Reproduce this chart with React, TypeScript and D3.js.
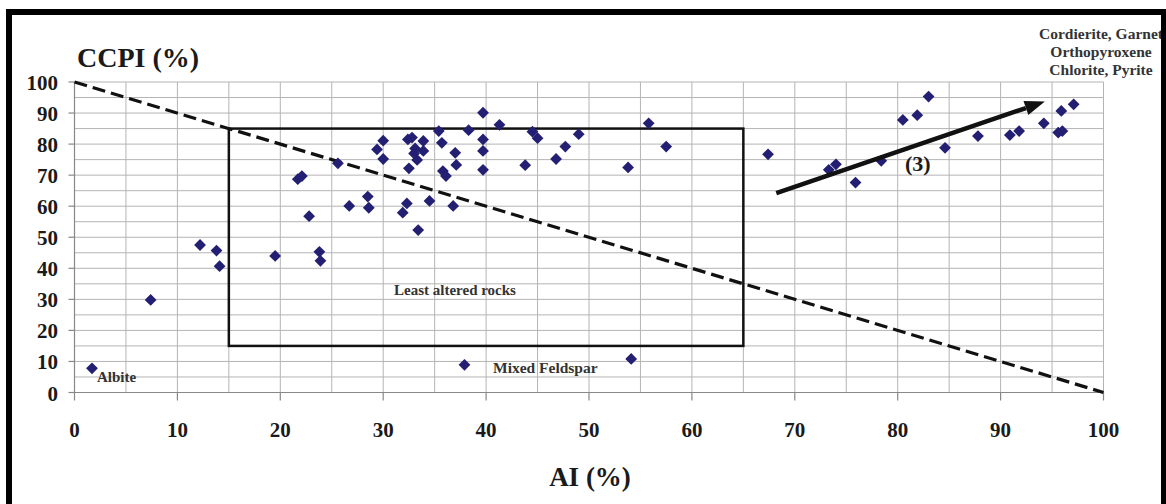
import React from "react";
import * as d3 from "d3";

const aiValues = [
  1.7, 7.4, 12.2, 13.8, 14.1, 19.5, 23.8, 23.9, 21.7, 22.1, 22.8, 25.6, 26.7, 28.5, 28.6,
  29.4, 30.0, 30.0, 31.9, 32.3, 32.5, 32.4, 32.8, 33.1, 33.0, 33.3, 33.9, 33.9, 33.4, 34.5,
  35.4, 35.7, 35.8, 36.1, 36.8, 37.0, 37.1, 38.3, 39.7, 39.7, 39.7, 39.7, 41.3, 43.8, 44.5,
  45.0, 46.8, 47.7, 49.0, 53.8, 55.8, 57.5, 37.9, 54.1, 67.4, 73.3, 74.0, 75.9, 78.4, 80.5,
  81.9, 83.0, 84.6, 87.8, 90.9, 91.8, 94.2, 95.6, 96.0, 95.9, 97.1,
];
const ccpiValues = [
  7.8, 29.8, 47.5, 45.7, 40.7, 44.0, 45.3, 42.4, 68.7, 69.7, 56.8, 73.8, 60.1, 63.1, 59.5,
  78.3, 81.1, 75.2, 57.9, 60.9, 72.2, 81.5, 82.1, 78.6, 77.0, 74.9, 81.0, 77.8, 52.3, 61.7,
  84.2, 80.4, 71.3, 69.7, 60.1, 77.2, 73.3, 84.5, 90.1, 81.5, 77.8, 71.7, 86.2, 73.2, 84.0,
  81.9, 75.2, 79.2, 83.2, 72.5, 86.7, 79.2, 8.9, 10.8, 76.7, 71.7, 73.5, 67.6, 74.6, 87.8,
  89.3, 95.3, 78.8, 82.6, 82.9, 84.2, 86.7, 83.7, 84.2, 90.7, 92.8,
];
const tickValues = [0, 10, 20, 30, 40, 50, 60, 70, 80, 90, 100];
const gridValues = [0, 5, 10, 15, 20, 25, 30, 35, 40, 45, 50, 55, 60, 65, 70, 75, 80, 85, 90, 95, 100];
const boxAI = [15, 65];
const boxCCPI = [15, 85];
const dashedLineAI = [0, 100];
const dashedLineCCPI = [100, 0];
const arrowAI = [68.2, 94.3];
const arrowCCPI = [64.2, 93.7];
const mineralLines = ["Cordierite, Garnet", "Orthopyroxene", "Chlorite, Pyrite"];

const FONT = "'Liberation Serif', 'Times New Roman', serif";

export default function App() {
  const x = d3.scaleLinear().domain([0, 100]).range([74.5, 1103.5]);
  const y = d3.scaleLinear().domain([0, 100]).range([392.5, 82]);
  const diamond = (cx: number, cy: number) => {
    const r = 5.9;
    return `M${cx},${cy - r}L${cx + r},${cy}L${cx},${cy + r}L${cx - r},${cy}Z`;
  };
  const lineGen = d3
    .line<[number, number]>()
    .x((d) => x(d[0]))
    .y((d) => y(d[1]));

  const ax0 = x(arrowAI[0]);
  const ay0 = y(arrowCCPI[0]);
  const ax1 = x(arrowAI[1]);
  const ay1 = y(arrowCCPI[1]);
  const ang = Math.atan2(ay1 - ay0, ax1 - ax0);
  const headLen = 20;
  const headW = 7.5;
  const bx = ax1 - headLen * Math.cos(ang);
  const by = ay1 - headLen * Math.sin(ang);
  const px = -Math.sin(ang);
  const py = Math.cos(ang);
  const head = `M${ax1},${ay1}L${bx + px * headW},${by + py * headW}L${bx - px * headW},${by - py * headW}Z`;

  return (
    <svg
      width={1166}
      height={504}
      style={{ position: "absolute", left: 0, top: 0, background: "#fff" }}
      fontFamily={FONT}
    >
      <rect x={0} y={0} width={1166} height={504} fill="#fff" />
      {/* grid */}
      {gridValues.map((v) => (
        <line
          key={"gx" + v}
          x1={x(v)}
          x2={x(v)}
          y1={y(100)}
          y2={y(0)}
          stroke="#b4b4b4"
          strokeWidth={1}
        />
      ))}
      {gridValues.map((v) => (
        <line
          key={"gy" + v}
          x1={x(0)}
          x2={x(100)}
          y1={y(v)}
          y2={y(v)}
          stroke="#b4b4b4"
          strokeWidth={1}
        />
      ))}
      {/* axes */}
      <line x1={x(0)} x2={x(100)} y1={y(0)} y2={y(0)} stroke="#888" strokeWidth={1.2} />
      <line x1={x(0)} x2={x(0)} y1={y(0)} y2={y(100)} stroke="#888" strokeWidth={1.2} />
      {tickValues.map((v) => (
        <line key={"tx" + v} x1={x(v)} x2={x(v)} y1={y(0)} y2={y(0) + 8} stroke="#888" strokeWidth={1.2} />
      ))}
      {tickValues.map((v) => (
        <line key={"ty" + v} x1={x(0) - 6} x2={x(0)} y1={y(v)} y2={y(v)} stroke="#888" strokeWidth={1.2} />
      ))}
      {tickValues.map((v) => (
        <text
          key={"lx" + v}
          x={x(v)}
          y={437}
          textAnchor="middle"
          fontSize={21}
          fontWeight="bold"
          fill="#1a1a1a"
        >
          {v}
        </text>
      ))}
      {tickValues.map((v) => (
        <text
          key={"ly" + v}
          x={58}
          y={y(v) + 8}
          textAnchor="end"
          fontSize={21}
          fontWeight="bold"
          fill="#1a1a1a"
        >
          {v}
        </text>
      ))}
      {/* axis titles */}
      <text x={77} y={67} fontSize={28} fontWeight="bold" fill="#1a1a1a">
        CCPI (%)
      </text>
      <text x={590} y={486} textAnchor="middle" fontSize={27} fontWeight="bold" fill="#1a1a1a">
        AI (%)
      </text>
      {/* box */}
      <rect
        x={x(boxAI[0])}
        y={y(boxCCPI[1])}
        width={x(boxAI[1]) - x(boxAI[0])}
        height={y(boxCCPI[0]) - y(boxCCPI[1])}
        fill="none"
        stroke="#111"
        strokeWidth={2.5}
      />
      {/* dashed line */}
      <path
        d={lineGen([
          [dashedLineAI[0], dashedLineCCPI[0]],
          [dashedLineAI[1], dashedLineCCPI[1]],
        ]) as string}
        fill="none"
        stroke="#111"
        strokeWidth={3.2}
        strokeDasharray="13,6"
      />
      {/* points */}
      {aiValues.map((a, i) => (
        <path key={"p" + i} d={diamond(x(a), y(ccpiValues[i]))} fill="#231f73" />
      ))}
      {/* arrow */}
      <line x1={ax0} y1={ay0} x2={bx} y2={by} stroke="#111" strokeWidth={4.5} />
      <path d={head} fill="#111" />
      <text x={905} y={171} fontSize={22} fontWeight="bold" fill="#1a1a1a">
        (3)
      </text>
      {/* annotations */}
      <text x={97} y={382} fontSize={15} fontWeight="bold" fill="#333">
        Albite
      </text>
      <text x={493} y={373} fontSize={15.5} fontWeight="bold" fill="#333">
        Mixed Feldspar
      </text>
      <text x={455} y={295} textAnchor="middle" fontSize={15} fontWeight="bold" fill="#333">
        Least altered rocks
      </text>
      {mineralLines.map((t, i) => (
        <text
          key={"m" + i}
          x={1101}
          y={39 + i * 18}
          textAnchor="middle"
          fontSize={15.5}
          fontWeight="bold"
          fill="#333"
        >
          {t}
        </text>
      ))}
      {/* frame */}
      <rect x={6} y={9} width={6} height={495} fill="#000" />
      <rect x={6} y={9} width={1160} height={6} fill="#000" />
      <rect x={1161} y={9} width={5} height={495} fill="#000" />
    </svg>
  );
}
